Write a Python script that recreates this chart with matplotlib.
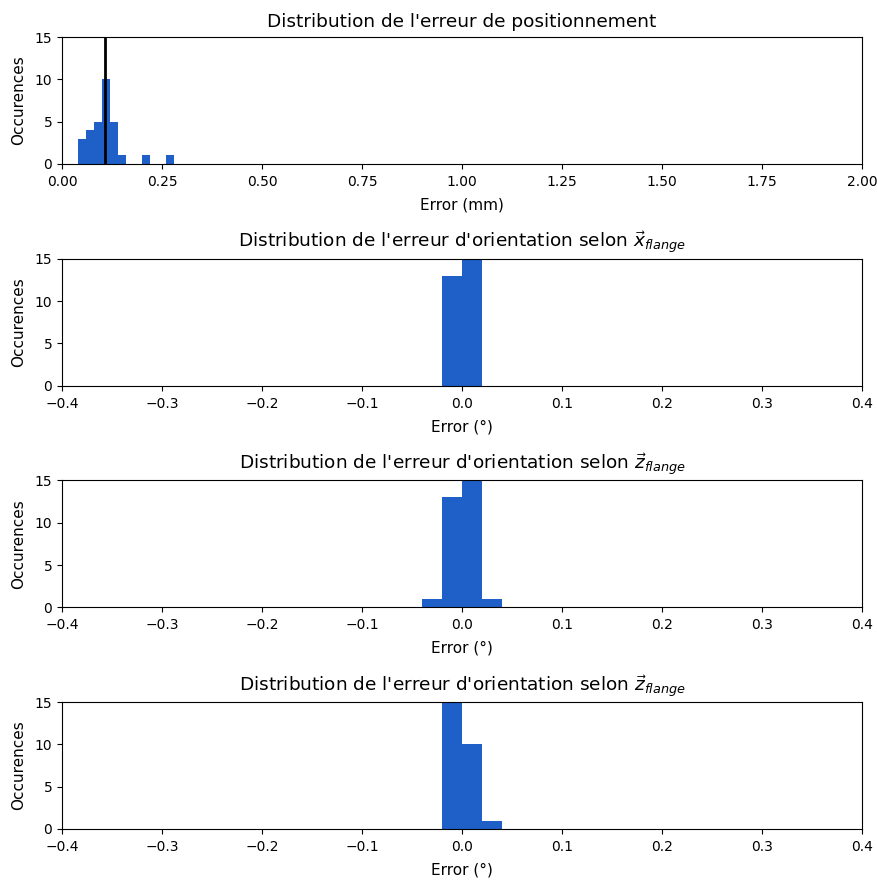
import numpy as np
import matplotlib
matplotlib.use("Agg")
import matplotlib.pyplot as plt

# Bin edges and counts
pos_edges = [0.04, 0.06, 0.08, 0.10, 0.12, 0.14, 0.16, 0.18, 0.20, 0.22, 0.24, 0.26, 0.28]
pos_counts = [3, 4, 5, 10, 5, 1, 0, 0, 1, 0, 0, 1]

rx_edges = [-0.02, 0.0, 0.02]
rx_counts = [13, 17]

rz1_edges = [-0.04, -0.02, 0.0, 0.02, 0.04]
rz1_counts = [1, 13, 15, 1]

rz2_edges = [-0.02, 0.0, 0.02, 0.04]
rz2_counts = [19, 10, 1]

color = '#1f5fc8'

fig, axes = plt.subplots(4, 1, figsize=(8.77, 8.83), dpi=100)
fig.subplots_adjust(left=0.0707, right=0.9829, top=0.958, bottom=0.0612, hspace=0.748)

def hist(ax, edges, counts):
    e = np.array(edges)
    ax.hist(e[:-1], bins=e, weights=counts, color=color)

ax = axes[0]
hist(ax, pos_edges, pos_counts)
mids = (np.array(pos_edges[:-1]) + np.array(pos_edges[1:])) / 2
mean = np.sum(mids * np.array(pos_counts)) / np.sum(pos_counts)
ax.axvline(mean, color='black', linewidth=2)
ax.set_xlim(0, 2)
ax.set_xticks(np.arange(0, 2.01, 0.25))
ax.set_title("Distribution de l'erreur de positionnement", fontsize=13.3, pad=7.5)
ax.set_xlabel("Error (mm)", fontsize=11, labelpad=6)

titles = [r"Distribution de l'erreur d'orientation selon $\vec{x}_{flange}$",
          r"Distribution de l'erreur d'orientation selon $\vec{z}_{flange}$",
          r"Distribution de l'erreur d'orientation selon $\vec{z}_{flange}$"]
for ax, (e, c), t in zip(axes[1:], [(rx_edges, rx_counts), (rz1_edges, rz1_counts), (rz2_edges, rz2_counts)], titles):
    hist(ax, e, c)
    ax.set_xlim(-0.4, 0.4)
    ax.set_title(t, fontsize=13.3, pad=7.5)
    ax.set_xlabel("Error (°)", fontsize=11, labelpad=6)

for ax in axes:
    ax.set_ylim(0, 15)
    ax.set_yticks([0, 5, 10, 15])
    ax.tick_params(axis='x', pad=4.5)
    ax.set_ylabel("Occurences", fontsize=11, labelpad=6)

fig.savefig("out.png", dpi=100)
